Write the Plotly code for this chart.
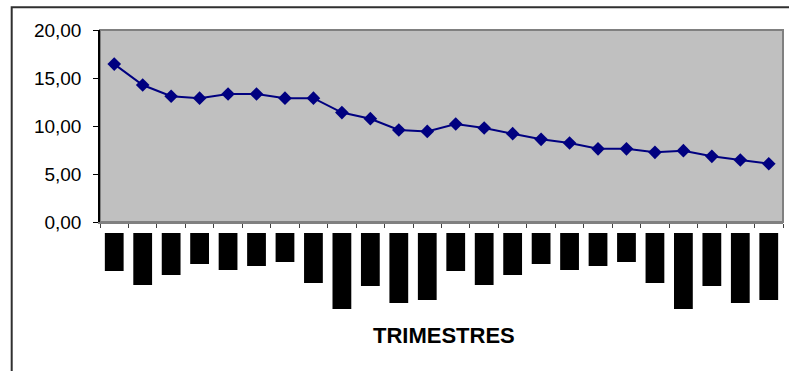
import plotly.graph_objects as go

# Quarterly series
trimestres = [
    "1T 2000", "2T 2000", "3T 2000", "4T 2000",
    "1T 2001", "2T 2001", "3T 2001", "4T 2001",
    "1T 2002", "2T 2002", "3T 2002", "4T 2002",
    "1T 2003", "2T 2003", "3T 2003", "4T 2003",
    "1T 2004", "2T 2004", "3T 2004", "4T 2004",
    "1T 2005", "2T 2005", "3T 2005", "4T 2005",
]
valores = [
    16.45, 14.27, 13.10, 12.90, 13.33, 13.33, 12.90, 12.90,
    11.40, 10.76, 9.58, 9.44, 10.21, 9.79, 9.20, 8.61,
    8.23, 7.62, 7.62, 7.26, 7.43, 6.84, 6.46, 6.07,
]
# Extent of each (blacked-out) rotated category label
label_len = [
    38, 52, 42, 31, 37, 33, 29, 50, 76, 53, 70, 67,
    38, 52, 42, 31, 37, 33, 29, 50, 76, 53, 70, 67,
]

W, H = 789, 371
L, R, T, B = 100, 783, 30, 340
PH = B - T
axis_y = 222
labels_top = 233

fig = go.Figure()

fig.add_trace(go.Scatter(
    x=trimestres, y=valores, mode="lines+markers",
    line=dict(color="#000080", width=2),
    marker=dict(symbol="diamond", size=10.5, color="#000080"),
    xaxis="x", yaxis="y", showlegend=False, hoverinfo="x+y",
))

fig.add_trace(go.Bar(
    x=trimestres, y=label_len, base=0,
    marker=dict(color="black", line=dict(width=0)),
    xaxis="x", yaxis="y2", showlegend=False, hoverinfo="skip",
))

fig.update_layout(
    width=W, height=H,
    margin=dict(l=L, r=W - R, t=T, b=H - B, pad=0),
    paper_bgcolor="white", plot_bgcolor="white",
    separators=",.",
    bargap=0.34,
    font=dict(family="Liberation Sans, Arial, sans-serif", color="black"),
    xaxis=dict(
        type="category", anchor="y", domain=[0, 1],
        categoryorder="array", categoryarray=trimestres,
        range=[-0.5, len(trimestres) - 0.5],
        showticklabels=False, tickson="boundaries",
        ticks="outside", ticklen=4, tickcolor="#404040", tickwidth=1.2,
        showline=True, linecolor="#808080", linewidth=2,
        showgrid=False, zeroline=False,
    ),
    yaxis=dict(
        domain=[(B - axis_y) / PH, 1], range=[0, 20], dtick=5,
        tickformat=".2f", tickfont=dict(size=19, color="black"),
        ticks="outside", ticklen=5, tickcolor="black", tickwidth=1.2,
        ticklabelstandoff=8,
        showline=True, linecolor="black", linewidth=1.5,
        showgrid=False, zeroline=False,
    ),
    yaxis2=dict(
        domain=[0, (B - labels_top) / PH], range=[B - labels_top, 0],
        anchor="x", visible=False, showgrid=False, zeroline=False,
    ),
    shapes=[
        # gray plotting area
        dict(type="rect", xref="x domain", yref="y domain",
             x0=0, x1=1, y0=0, y1=1, layer="below",
             fillcolor="#C0C0C0", line=dict(color="#808080", width=2)),
        # chart frame
        dict(type="rect", xref="paper", yref="paper",
             x0=(11.7 - L) / (R - L), x1=(791 - L) / (R - L),
             y0=(B - 385) / PH, y1=(B - 7.3) / PH,
             line=dict(color="#303030", width=2), fillcolor="rgba(0,0,0,0)"),
    ],
    annotations=[
        dict(text="<b>TRIMESTRES</b>", xref="paper", yref="paper",
             x=(444 - L) / (R - L), y=(B - 335) / PH,
             xanchor="center", yanchor="middle", showarrow=False,
             font=dict(size=22, color="black",
                       family="Liberation Sans, Arial, sans-serif")),
    ],
)

fig.write_html("out.html")
